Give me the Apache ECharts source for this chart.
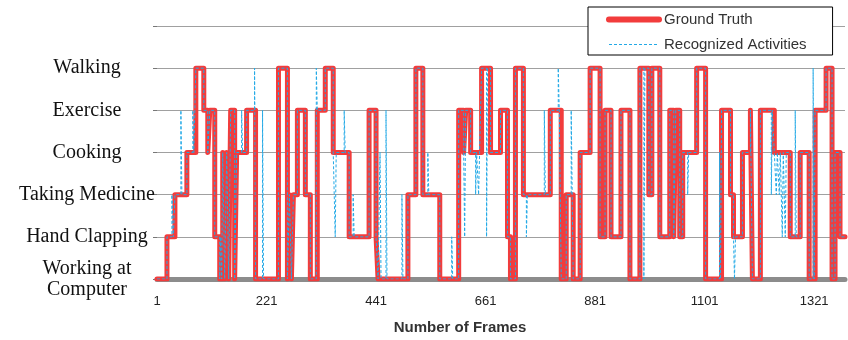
<!DOCTYPE html>
<html>
<head>
<meta charset="utf-8">
<script src="https://cdn.jsdelivr.net/npm/echarts@6/dist/echarts.min.js"></script>
<style>html,body{margin:0;padding:0;background:#fff}#c{width:848px;height:340px}</style>
</head>
<body>
<div id="c"></div>
<script>
// Activity categories (y levels 0..5)
const activities = ['Working at\nComputer', 'Hand Clapping', 'Taking Medicine', 'Cooking', 'Exercise', 'Walking'];
// x tick labels
const xTickLabels = ['1', '221', '441', '661', '881', '1101', '1321'];
const lastFrame = 1383;

// Ground truth: frame where a new activity starts, and its level
const gtFrames = [1,21,37,61,79,95,103,107,117,127,133,137,141,145,149,157,161,181,199,245,263,267,271,275,283,299,309,323,339,355,387,427,441,445,505,521,535,569,607,617,621,631,653,671,691,705,711,721,737,791,813,823,837,851,871,891,901,913,933,951,971,989,995,1011,1031,1039,1043,1051,1057,1085,1103,1135,1153,1159,1177,1193,1197,1213,1241,1273,1293,1311,1323,1345,1357,1363,1373];
const gtLevels = [0,1,2,3,5,4,3,4,1,0,3,0,3,0,4,0,3,4,0,5,0,2,0,2,4,2,0,4,5,3,1,4,1,0,2,5,2,0,4,3,4,3,5,3,4,1,0,5,2,4,0,2,0,3,5,1,4,1,4,0,5,2,5,1,4,1,4,1,3,5,0,4,2,1,3,4,0,4,3,1,3,0,4,5,0,3,1];

// Recognized activities: misrecognitions (start frame, level, length in frames); elsewhere equal to ground truth
const errFrames = [31,49,73,129,171,197,213,321,359,377,395,449,461,493,545,593,619,641,647,663,743,779,807,833,979,1067,1131,1161,1235,1245,1251,1257,1263,1283,1319];
const errLevels = [2,4,4,1,4,5,4,5,1,4,2,3,4,2,3,1,1,2,2,1,1,4,5,4,0,2,3,0,2,2,2,1,1,4,5];
const errLengths = [3,2,2,2,2,2,2,2,2,2,2,2,2,2,2,2,2,2,2,2,2,2,2,2,2,2,2,2,2,2,2,2,2,2,2];

function gtAt(f){let l=gtLevels[0];for(let i=0;i<gtFrames.length;i++){if(gtFrames[i]<=f)l=gtLevels[i];}return l;}
function recAt(f){for(let i=0;i<errFrames.length;i++){if(f>=errFrames[i]&&f<errFrames[i]+errLengths[i])return errLevels[i];}return gtAt(f);}

const gtData = gtFrames.map((f,i)=>[f-1,gtLevels[i]]);
gtData.push([lastFrame-1, gtLevels[gtLevels.length-1]]);

let breaks = new Set(gtFrames);
errFrames.forEach((f,i)=>{breaks.add(f);breaks.add(f+errLengths[i]);});
breaks = Array.from(breaks).sort((a,b)=>a-b);
const recData = breaks.map(b=>[b-1,recAt(b)]);
recData.push([lastFrame-1, recAt(lastFrame)]);

const RED = '#f23c3c', BLUE = '#22a9e6';
const chart = echarts.init(document.getElementById('c'), null, {renderer:'canvas'});
chart.setOption({
  animation:false,
  backgroundColor:'#fff',
  grid:{left:157, right:0, top:26, bottom:57, containLabel:false},
  legend:{
    orient:'vertical', left:588, top:7,
    padding:[5,26,3,18], itemWidth:50, itemHeight:14, itemGap:10, itemTextGap:5,
    backgroundColor:'#fff', borderColor:'#000', borderWidth:1,
    itemStyle:{opacity:0},
    textStyle:{fontFamily:'Liberation Sans, Arial, sans-serif', fontSize:15, color:'#333'},
    data:[
      {name:'Ground Truth', itemStyle:{opacity:0}, lineStyle:{color:RED, width:6, cap:'round'}},
      {name:'Recognized Activities', itemStyle:{opacity:0}, lineStyle:{color:BLUE, width:1, type:[3,2]}}
    ]
  },
  xAxis:{
    type:'value', min:0, max:lastFrame-1, interval:220, offset:3,
    axisLine:{show:true, lineStyle:{color:'#8c8c8c', width:5}},
    axisTick:{show:false},
    splitLine:{show:false},
    axisLabel:{margin:13, color:'#222', fontFamily:'Liberation Sans, Arial, sans-serif', fontSize:13,
      formatter:(v)=> (Math.round(v) % 220 === 0 ? (xTickLabels[Math.round(v/220)] || '') : '')},
    name:'Number of Frames', nameLocation:'middle', nameGap:38,
    nameTextStyle:{fontFamily:'Liberation Sans, Arial, sans-serif', fontSize:15, fontWeight:'bold', color:'#333', padding:[0,82,0,0]}
  },
  yAxis:{
    type:'value', min:0, max:6, interval:1,
    axisLine:{show:false},
    axisTick:{show:true, length:4, lineStyle:{color:'#777'}},
    splitLine:{show:true, lineStyle:{color:'#a0a0a0', width:1}},
    axisLabel:{margin:70, align:'center', color:'#111', fontFamily:'Liberation Serif, Times New Roman, serif', fontSize:20, lineHeight:21,
      formatter:(v)=>activities[v] || ''}
  },
  series:[
    {name:'Ground Truth', type:'line', step:'end', data:gtData, symbol:'none', z:2,
     lineStyle:{color:RED, width:5, cap:'round', join:'round'}, itemStyle:{color:RED}},
    {name:'Recognized Activities', type:'line', step:'end', data:recData, symbol:'none', z:3,
     lineStyle:{color:BLUE, width:1, type:[3,2]}, itemStyle:{color:BLUE}}
  ]
});
</script>
</body>
</html>
